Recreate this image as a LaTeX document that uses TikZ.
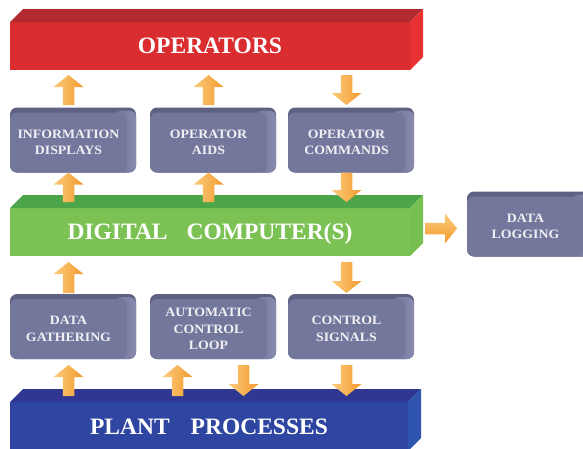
\documentclass[tikz,border=0pt]{standalone}
\usepackage{fontspec}
\setmainfont{Liberation Serif}
\newfontfamily\panelfont[FakeStretch=1.08]{Liberation Serif}
\usetikzlibrary{calc,positioning,backgrounds}

\definecolor{opsfront}{HTML}{D92D30}
\definecolor{opstop}{HTML}{B02A30}
\definecolor{opsside}{HTML}{E83131}
\definecolor{compfront}{HTML}{7BC153}
\definecolor{comptop}{HTML}{4CA649}
\definecolor{compside}{HTML}{77BF51}
\definecolor{plantfront}{HTML}{2E45A1}
\definecolor{planttop}{HTML}{2F3793}
\definecolor{plantside}{HTML}{2F55AF}
\definecolor{panelfront}{HTML}{74779C}
\definecolor{paneltop}{HTML}{5E6184}
\definecolor{panelside}{HTML}{888BAF}
\definecolor{paneltext}{HTML}{F0F0F4}
\definecolor{arrowlight}{HTML}{FCCB7D}
\definecolor{arrowdark}{HTML}{F29A2D}

\tikzset{
  bar/.style={rectangle, outer sep=0pt, inner sep=0pt, text=white,
    font=\bfseries\fontsize{23.5}{28}\selectfont, text height=15.6pt, text depth=0pt},
  panel/.style={rectangle, rounded corners=7pt, fill=panelfront, outer sep=0pt, inner sep=0pt,
    minimum width=117, minimum height=60, align=center, text=paneltext,
    font=\panelfont\bfseries\fontsize{12.8}{16.5}\selectfont},
  vshade/.style={left color=arrowlight, right color=arrowdark},
  hshade/.style={top color=arrowlight, bottom color=arrowdark}
}

% top and right faces of a 3d bar
\newcommand{\barfaces}[3]{%
  \fill[#2] (#1.north west) -- ++(13,-13) -- ($(#1.north east)+(13,-13)$) -- (#1.north east) -- cycle;
  \fill[#3] (#1.north east) -- ++(13,-13) -- ($(#1.south east)+(13,-13)$) -- (#1.south east) -- cycle;}

% bevel behind a panel
\newcommand{\panelback}[1]{%
  \begin{pgfonlayer}{background}
    \fill[paneltop, rounded corners=7pt] (#1.south west) rectangle ($(#1.north east)+(9,-5)$);
    \shade[left color=panelfront, right color=panelside, rounded corners=7pt]
      ($(#1.north east)+(-12,-2)$) rectangle ($(#1.south east)+(9,0)$);
  \end{pgfonlayer}}

% fat shaded arrow from #2 to #3
\newcommand{\blockarrow}[3][vshade]{%
  \coordinate (ba) at (#2);
  \coordinate (bb) at (#3);
  \coordinate (bh) at ($(bb)!12pt!(ba)$);
  \shade[#1] ($(ba)!5.75pt!90:(bb)$) -- ($(bh)!5.75pt!90:(bb)$) -- ($(bh)!15pt!90:(bb)$) -- (bb)
    -- ($(bh)!15pt!-90:(bb)$) -- ($(bh)!5.75pt!-90:(bb)$) -- ($(ba)!5.75pt!-90:(bb)$) -- cycle;}

\begin{document}
\begin{tikzpicture}[x=1pt, y=-1pt]
    \useasboundingbox (0,0) rectangle (583,448);

    % bars
    \node[bar, fill=opsfront, minimum width=400, minimum height=48] (ops) at (210,46) {OPERATORS};
    \barfaces{ops}{opstop}{opsside}
    \node[bar, fill=compfront, minimum width=400, minimum height=48] (comp) at (210,232) {DIGITAL\hspace{19pt}COMPUTER(S)};
    \barfaces{comp}{comptop}{compside}
    \node[bar, fill=plantfront, minimum width=398, minimum height=49] (plant) at (209,426.5) {PLANT\hspace{21pt}PROCESSES};
    \barfaces{plant}{planttop}{plantside}

    % panels
    \node[panel] (info) at (68.5,142.5) {INFORMATION\\DISPLAYS};
    \node[panel, right=23pt of info] (aids) {OPERATOR\\AIDS};
    \node[panel, right=21pt of aids] (cmds) {OPERATOR\\COMMANDS};
    \node[panel] (gather) at (68.5,329) {DATA\\GATHERING};
    \node[panel, right=23pt of gather] (auto) {AUTOMATIC\\CONTROL\\LOOP};
    \node[panel, right=21pt of auto] (signals) {CONTROL\\SIGNALS};
    \node[panel] (log) at (525.5,226.5) {DATA\\LOGGING};
    \foreach \p in {info,aids,cmds,gather,auto,signals,log} {\panelback{\p}}

    % arrows
    \blockarrow{$(info.north)+(0,-7.5)$}{$(info.north |- ops.south)+(0,5)$}
    \blockarrow{$(aids.north)+(0,-7.5)$}{$(aids.north |- ops.south)+(0,5)$}
    \blockarrow{$(cmds.north |- ops.south)+(0,5)$}{$(cmds.north)+(0,-7.5)$}
    \blockarrow{$(info.south |- comp.north)+(0,-6)$}{info.south}
    \blockarrow{$(aids.south |- comp.north)+(0,-6)$}{aids.south}
    \blockarrow{cmds.south}{$(cmds.south |- comp.north)+(0,-6)$}
    \blockarrow[hshade]{$(comp.east)+(15,-3.5)$}{$(comp.east -| log.west)+(-10,-3.5)$}
    \blockarrow{$(gather.north)+(0,-6)$}{$(gather.north |- comp.south)+(0,6)$}
    \blockarrow{$(signals.north |- comp.south)+(0,6)$}{$(signals.north)+(0,-6)$}
    \blockarrow{$(gather.south |- plant.north)+(0,-6)$}{$(gather.south)+(0,6)$}
    \blockarrow{$(auto.south |- plant.north)+(-31,-6)$}{$(auto.south)+(-31,6)$}
    \blockarrow{$(auto.south)+(35,6)$}{$(auto.south |- plant.north)+(35,-6)$}
    \blockarrow{$(signals.south)+(0,6)$}{$(signals.south |- plant.north)+(0,-6)$}
\end{tikzpicture}
\end{document}
